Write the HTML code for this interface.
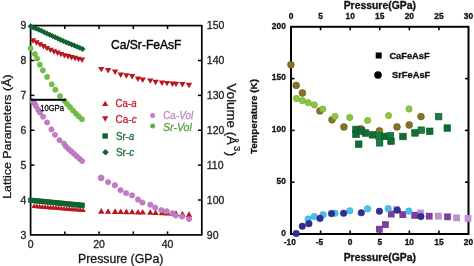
<!DOCTYPE html>
<html><head><meta charset="utf-8"><style>
html,body{margin:0;padding:0;background:#fff;}
svg{display:block;font-family:"Liberation Sans", sans-serif;filter:blur(0.3px);}
</style></head><body>
<svg width="474" height="266" viewBox="0 0 474 266">
<rect width="474" height="266" fill="#fff"/>
<rect x="30.6" y="25.6" width="171.20" height="209.30" fill="none" stroke="#000" stroke-width="1.7"/>
<line x1="30.6" y1="60.48" x2="34.40" y2="60.48" stroke="#000" stroke-width="1.5"/>
<line x1="201.8" y1="60.48" x2="198.00" y2="60.48" stroke="#000" stroke-width="1.5"/>
<line x1="30.6" y1="95.37" x2="34.40" y2="95.37" stroke="#000" stroke-width="1.5"/>
<line x1="201.8" y1="95.37" x2="198.00" y2="95.37" stroke="#000" stroke-width="1.5"/>
<line x1="30.6" y1="130.25" x2="34.40" y2="130.25" stroke="#000" stroke-width="1.5"/>
<line x1="201.8" y1="130.25" x2="198.00" y2="130.25" stroke="#000" stroke-width="1.5"/>
<line x1="30.6" y1="165.13" x2="34.40" y2="165.13" stroke="#000" stroke-width="1.5"/>
<line x1="201.8" y1="165.13" x2="198.00" y2="165.13" stroke="#000" stroke-width="1.5"/>
<line x1="30.6" y1="200.02" x2="34.40" y2="200.02" stroke="#000" stroke-width="1.5"/>
<line x1="201.8" y1="200.02" x2="198.00" y2="200.02" stroke="#000" stroke-width="1.5"/>
<line x1="64.84" y1="25.6" x2="64.84" y2="29.10" stroke="#000" stroke-width="1.5"/>
<line x1="64.84" y1="234.9" x2="64.84" y2="231.40" stroke="#000" stroke-width="1.5"/>
<line x1="99.08" y1="25.6" x2="99.08" y2="29.10" stroke="#000" stroke-width="1.5"/>
<line x1="99.08" y1="234.9" x2="99.08" y2="231.40" stroke="#000" stroke-width="1.5"/>
<line x1="133.32" y1="25.6" x2="133.32" y2="29.10" stroke="#000" stroke-width="1.5"/>
<line x1="133.32" y1="234.9" x2="133.32" y2="231.40" stroke="#000" stroke-width="1.5"/>
<line x1="167.56" y1="25.6" x2="167.56" y2="29.10" stroke="#000" stroke-width="1.5"/>
<line x1="167.56" y1="234.9" x2="167.56" y2="231.40" stroke="#000" stroke-width="1.5"/>
<polygon points="31.40,208.10 37.00,208.10 34.20,203.30" fill="#bb1620"/>
<polygon points="34.11,208.32 39.71,208.32 36.91,203.52" fill="#bb1620"/>
<polygon points="36.82,208.53 42.42,208.53 39.62,203.73" fill="#bb1620"/>
<polygon points="39.53,208.75 45.13,208.75 42.33,203.95" fill="#bb1620"/>
<polygon points="42.24,208.97 47.84,208.97 45.04,204.17" fill="#bb1620"/>
<polygon points="44.96,209.18 50.56,209.18 47.76,204.38" fill="#bb1620"/>
<polygon points="47.67,209.40 53.27,209.40 50.47,204.60" fill="#bb1620"/>
<polygon points="50.38,209.62 55.98,209.62 53.18,204.82" fill="#bb1620"/>
<polygon points="53.09,209.83 58.69,209.83 55.89,205.03" fill="#bb1620"/>
<polygon points="55.80,210.05 61.40,210.05 58.60,205.25" fill="#bb1620"/>
<polygon points="58.51,210.27 64.11,210.27 61.31,205.47" fill="#bb1620"/>
<polygon points="61.22,210.48 66.82,210.48 64.02,205.68" fill="#bb1620"/>
<polygon points="63.93,210.70 69.53,210.70 66.73,205.90" fill="#bb1620"/>
<polygon points="66.64,210.92 72.24,210.92 69.44,206.12" fill="#bb1620"/>
<polygon points="69.36,211.13 74.96,211.13 72.16,206.33" fill="#bb1620"/>
<polygon points="72.07,211.35 77.67,211.35 74.87,206.55" fill="#bb1620"/>
<polygon points="74.78,211.57 80.38,211.57 77.58,206.77" fill="#bb1620"/>
<polygon points="77.49,211.78 83.09,211.78 80.29,206.98" fill="#bb1620"/>
<polygon points="80.20,212.00 85.80,212.00 83.00,207.20" fill="#bb1620"/>
<rect x="28.20" y="197.70" width="5.20" height="5.20" fill="#106331" />
<rect x="30.43" y="197.92" width="5.20" height="5.20" fill="#106331" />
<rect x="32.67" y="198.13" width="5.20" height="5.20" fill="#106331" />
<rect x="34.90" y="198.35" width="5.20" height="5.20" fill="#106331" />
<rect x="37.14" y="198.57" width="5.20" height="5.20" fill="#106331" />
<rect x="39.37" y="198.79" width="5.20" height="5.20" fill="#106331" />
<rect x="41.61" y="199.00" width="5.20" height="5.20" fill="#106331" />
<rect x="43.84" y="199.22" width="5.20" height="5.20" fill="#106331" />
<rect x="46.08" y="199.44" width="5.20" height="5.20" fill="#106331" />
<rect x="48.31" y="199.66" width="5.20" height="5.20" fill="#106331" />
<rect x="50.55" y="199.87" width="5.20" height="5.20" fill="#106331" />
<rect x="52.78" y="200.09" width="5.20" height="5.20" fill="#106331" />
<rect x="55.02" y="200.31" width="5.20" height="5.20" fill="#106331" />
<rect x="57.25" y="200.53" width="5.20" height="5.20" fill="#106331" />
<rect x="59.49" y="200.74" width="5.20" height="5.20" fill="#106331" />
<rect x="61.72" y="200.96" width="5.20" height="5.20" fill="#106331" />
<rect x="63.96" y="201.18" width="5.20" height="5.20" fill="#106331" />
<rect x="66.19" y="201.40" width="5.20" height="5.20" fill="#106331" />
<rect x="68.43" y="201.61" width="5.20" height="5.20" fill="#106331" />
<rect x="70.66" y="201.83" width="5.20" height="5.20" fill="#106331" />
<rect x="72.90" y="202.05" width="5.20" height="5.20" fill="#106331" />
<rect x="75.13" y="202.27" width="5.20" height="5.20" fill="#106331" />
<rect x="77.37" y="202.48" width="5.20" height="5.20" fill="#106331" />
<rect x="79.60" y="202.70" width="5.20" height="5.20" fill="#106331" />
<polygon points="29.80,38.30 36.20,38.30 33.00,43.70" fill="#bb1620"/>
<polygon points="33.30,40.24 39.70,40.24 36.50,45.64" fill="#bb1620"/>
<polygon points="36.80,42.19 43.20,42.19 40.00,47.59" fill="#bb1620"/>
<polygon points="40.30,44.08 46.70,44.08 43.50,49.48" fill="#bb1620"/>
<polygon points="43.80,45.90 50.20,45.90 47.00,51.30" fill="#bb1620"/>
<polygon points="47.30,47.72 53.70,47.72 50.50,53.12" fill="#bb1620"/>
<polygon points="50.80,49.27 57.20,49.27 54.00,54.67" fill="#bb1620"/>
<polygon points="54.30,50.61 60.70,50.61 57.50,56.01" fill="#bb1620"/>
<polygon points="57.80,51.95 64.20,51.95 61.00,57.35" fill="#bb1620"/>
<polygon points="61.30,53.22 67.70,53.22 64.50,58.62" fill="#bb1620"/>
<polygon points="64.80,54.10 71.20,54.10 68.00,59.50" fill="#bb1620"/>
<polygon points="68.30,54.97 74.70,54.97 71.50,60.38" fill="#bb1620"/>
<polygon points="71.80,55.85 78.20,55.85 75.00,61.25" fill="#bb1620"/>
<polygon points="75.30,56.72 81.70,56.72 78.50,62.12" fill="#bb1620"/>
<polygon points="78.80,57.60 85.20,57.60 82.00,63.00" fill="#bb1620"/>
<polygon points="30.60,23.30 33.60,26.30 30.60,29.30 27.60,26.30" fill="#106331"/>
<polygon points="33.33,24.43 36.33,27.43 33.33,30.43 30.33,27.43" fill="#106331"/>
<polygon points="36.06,25.56 39.06,28.56 36.06,31.56 33.06,28.56" fill="#106331"/>
<polygon points="38.79,26.69 41.79,29.69 38.79,32.69 35.79,29.69" fill="#106331"/>
<polygon points="41.53,27.85 44.53,30.85 41.53,33.85 38.53,30.85" fill="#106331"/>
<polygon points="44.26,29.15 47.26,32.15 44.26,35.15 41.26,32.15" fill="#106331"/>
<polygon points="46.99,30.45 49.99,33.45 46.99,36.45 43.99,33.45" fill="#106331"/>
<polygon points="49.72,31.75 52.72,34.75 49.72,37.75 46.72,34.75" fill="#106331"/>
<polygon points="52.45,33.05 55.45,36.05 52.45,39.05 49.45,36.05" fill="#106331"/>
<polygon points="55.18,34.31 58.18,37.31 55.18,40.31 52.18,37.31" fill="#106331"/>
<polygon points="57.92,35.52 60.92,38.52 57.92,41.52 54.92,38.52" fill="#106331"/>
<polygon points="60.65,36.74 63.65,39.74 60.65,42.74 57.65,39.74" fill="#106331"/>
<polygon points="63.38,37.95 66.38,40.95 63.38,43.95 60.38,40.95" fill="#106331"/>
<polygon points="66.11,39.17 69.11,42.17 66.11,45.17 63.11,42.17" fill="#106331"/>
<polygon points="68.84,40.29 71.84,43.29 68.84,46.29 65.84,43.29" fill="#106331"/>
<polygon points="71.57,41.41 74.57,44.41 71.57,47.41 68.57,44.41" fill="#106331"/>
<polygon points="74.31,42.52 77.31,45.52 74.31,48.52 71.31,45.52" fill="#106331"/>
<polygon points="77.04,43.64 80.04,46.64 77.04,49.64 74.04,46.64" fill="#106331"/>
<polygon points="79.77,44.77 82.77,47.77 79.77,50.77 76.77,47.77" fill="#106331"/>
<polygon points="82.50,45.90 85.50,48.90 82.50,51.90 79.50,48.90" fill="#106331"/>
<circle cx="30.60" cy="48.30" r="2.60" fill="#70c043" stroke="#5aa838" stroke-width="0.5"/>
<circle cx="34.90" cy="54.00" r="2.60" fill="#70c043" stroke="#5aa838" stroke-width="0.5"/>
<circle cx="37.10" cy="58.60" r="2.60" fill="#70c043" stroke="#5aa838" stroke-width="0.5"/>
<circle cx="39.90" cy="64.70" r="2.60" fill="#70c043" stroke="#5aa838" stroke-width="0.5"/>
<circle cx="42.90" cy="70.30" r="2.60" fill="#70c043" stroke="#5aa838" stroke-width="0.5"/>
<circle cx="47.10" cy="76.90" r="2.60" fill="#70c043" stroke="#5aa838" stroke-width="0.5"/>
<circle cx="51.70" cy="84.30" r="2.60" fill="#70c043" stroke="#5aa838" stroke-width="0.5"/>
<circle cx="55.40" cy="89.70" r="2.60" fill="#70c043" stroke="#5aa838" stroke-width="0.5"/>
<circle cx="60.00" cy="96.00" r="2.60" fill="#70c043" stroke="#5aa838" stroke-width="0.5"/>
<circle cx="64.60" cy="101.00" r="2.60" fill="#70c043" stroke="#5aa838" stroke-width="0.5"/>
<circle cx="67.20" cy="104.00" r="2.60" fill="#70c043" stroke="#5aa838" stroke-width="0.5"/>
<circle cx="70.10" cy="107.20" r="2.60" fill="#70c043" stroke="#5aa838" stroke-width="0.5"/>
<circle cx="73.00" cy="110.50" r="2.60" fill="#70c043" stroke="#5aa838" stroke-width="0.5"/>
<circle cx="75.90" cy="113.60" r="2.60" fill="#70c043" stroke="#5aa838" stroke-width="0.5"/>
<circle cx="78.80" cy="116.40" r="2.60" fill="#70c043" stroke="#5aa838" stroke-width="0.5"/>
<circle cx="81.90" cy="119.20" r="2.60" fill="#70c043" stroke="#5aa838" stroke-width="0.5"/>
<circle cx="32.60" cy="101.30" r="2.60" fill="#c47cc6" stroke="#a864ac" stroke-width="0.5"/>
<circle cx="34.60" cy="103.50" r="2.60" fill="#c47cc6" stroke="#a864ac" stroke-width="0.5"/>
<circle cx="36.00" cy="106.00" r="2.60" fill="#c47cc6" stroke="#a864ac" stroke-width="0.5"/>
<circle cx="38.10" cy="109.60" r="2.60" fill="#c47cc6" stroke="#a864ac" stroke-width="0.5"/>
<circle cx="39.90" cy="112.40" r="2.60" fill="#c47cc6" stroke="#a864ac" stroke-width="0.5"/>
<circle cx="43.10" cy="116.70" r="2.60" fill="#c47cc6" stroke="#a864ac" stroke-width="0.5"/>
<circle cx="47.10" cy="122.40" r="2.60" fill="#c47cc6" stroke="#a864ac" stroke-width="0.5"/>
<circle cx="51.40" cy="129.40" r="2.60" fill="#c47cc6" stroke="#a864ac" stroke-width="0.5"/>
<circle cx="55.00" cy="134.80" r="2.60" fill="#c47cc6" stroke="#a864ac" stroke-width="0.5"/>
<circle cx="59.50" cy="140.20" r="2.60" fill="#c47cc6" stroke="#a864ac" stroke-width="0.5"/>
<circle cx="64.00" cy="143.50" r="2.60" fill="#c47cc6" stroke="#a864ac" stroke-width="0.5"/>
<circle cx="65.90" cy="146.60" r="2.60" fill="#c47cc6" stroke="#a864ac" stroke-width="0.5"/>
<circle cx="68.60" cy="149.00" r="2.60" fill="#c47cc6" stroke="#a864ac" stroke-width="0.5"/>
<circle cx="71.30" cy="151.40" r="2.60" fill="#c47cc6" stroke="#a864ac" stroke-width="0.5"/>
<circle cx="74.00" cy="153.80" r="2.60" fill="#c47cc6" stroke="#a864ac" stroke-width="0.5"/>
<circle cx="76.70" cy="156.20" r="2.60" fill="#c47cc6" stroke="#a864ac" stroke-width="0.5"/>
<circle cx="79.40" cy="158.60" r="2.60" fill="#c47cc6" stroke="#a864ac" stroke-width="0.5"/>
<circle cx="82.10" cy="161.00" r="2.60" fill="#c47cc6" stroke="#a864ac" stroke-width="0.5"/>
<polygon points="98.10,66.90 104.50,66.90 101.30,72.30" fill="#bb1620"/>
<polygon points="104.90,68.00 111.30,68.00 108.10,73.40" fill="#bb1620"/>
<polygon points="111.90,69.60 118.30,69.60 115.10,75.00" fill="#bb1620"/>
<polygon points="117.50,72.50 123.90,72.50 120.70,77.90" fill="#bb1620"/>
<polygon points="123.20,73.30 129.60,73.30 126.40,78.70" fill="#bb1620"/>
<polygon points="128.90,74.00 135.30,74.00 132.10,79.40" fill="#bb1620"/>
<polygon points="134.80,76.60 141.20,76.60 138.00,82.00" fill="#bb1620"/>
<polygon points="139.50,77.60 145.90,77.60 142.70,83.00" fill="#bb1620"/>
<polygon points="147.10,78.40 153.50,78.40 150.30,83.80" fill="#bb1620"/>
<polygon points="152.40,79.80 158.80,79.80 155.60,85.20" fill="#bb1620"/>
<polygon points="158.80,80.60 165.20,80.60 162.00,86.00" fill="#bb1620"/>
<polygon points="163.80,80.90 170.20,80.90 167.00,86.30" fill="#bb1620"/>
<polygon points="169.30,81.50 175.70,81.50 172.50,86.90" fill="#bb1620"/>
<polygon points="172.80,81.70 179.20,81.70 176.00,87.10" fill="#bb1620"/>
<polygon points="179.20,82.10 185.60,82.10 182.40,87.50" fill="#bb1620"/>
<polygon points="185.80,82.80 192.20,82.80 189.00,88.20" fill="#bb1620"/>
<polygon points="98.10,213.70 104.50,213.70 101.30,208.10" fill="#bb1620"/>
<polygon points="104.90,213.80 111.30,213.80 108.10,208.20" fill="#bb1620"/>
<polygon points="111.90,213.90 118.30,213.90 115.10,208.30" fill="#bb1620"/>
<polygon points="117.50,214.10 123.90,214.10 120.70,208.50" fill="#bb1620"/>
<polygon points="123.20,214.20 129.60,214.20 126.40,208.60" fill="#bb1620"/>
<polygon points="128.90,214.30 135.30,214.30 132.10,208.70" fill="#bb1620"/>
<polygon points="134.80,214.50 141.20,214.50 138.00,208.90" fill="#bb1620"/>
<polygon points="139.50,214.60 145.90,214.60 142.70,209.00" fill="#bb1620"/>
<polygon points="147.10,214.80 153.50,214.80 150.30,209.20" fill="#bb1620"/>
<polygon points="152.40,215.00 158.80,215.00 155.60,209.40" fill="#bb1620"/>
<polygon points="158.80,215.20 165.20,215.20 162.00,209.60" fill="#bb1620"/>
<polygon points="163.80,215.40 170.20,215.40 167.00,209.80" fill="#bb1620"/>
<polygon points="169.30,215.70 175.70,215.70 172.50,210.10" fill="#bb1620"/>
<polygon points="172.80,215.90 179.20,215.90 176.00,210.30" fill="#bb1620"/>
<polygon points="179.20,216.40 185.60,216.40 182.40,210.80" fill="#bb1620"/>
<polygon points="185.80,216.90 192.20,216.90 189.00,211.30" fill="#bb1620"/>
<circle cx="101.10" cy="177.90" r="3.00" fill="#c47cc6" stroke="#a864ac" stroke-width="0.5"/>
<circle cx="108.10" cy="182.10" r="2.70" fill="#c47cc6" stroke="#a864ac" stroke-width="0.5"/>
<circle cx="114.90" cy="185.20" r="2.70" fill="#c47cc6" stroke="#a864ac" stroke-width="0.5"/>
<circle cx="120.50" cy="190.10" r="2.70" fill="#c47cc6" stroke="#a864ac" stroke-width="0.5"/>
<circle cx="126.10" cy="193.10" r="2.70" fill="#c47cc6" stroke="#a864ac" stroke-width="0.5"/>
<circle cx="132.10" cy="195.40" r="2.70" fill="#c47cc6" stroke="#a864ac" stroke-width="0.5"/>
<circle cx="138.00" cy="199.50" r="2.70" fill="#c47cc6" stroke="#a864ac" stroke-width="0.5"/>
<circle cx="142.40" cy="202.60" r="2.70" fill="#c47cc6" stroke="#a864ac" stroke-width="0.5"/>
<circle cx="150.30" cy="204.70" r="2.70" fill="#c47cc6" stroke="#a864ac" stroke-width="0.5"/>
<circle cx="155.20" cy="207.60" r="2.70" fill="#c47cc6" stroke="#a864ac" stroke-width="0.5"/>
<circle cx="161.40" cy="210.10" r="2.70" fill="#c47cc6" stroke="#a864ac" stroke-width="0.5"/>
<circle cx="166.70" cy="211.30" r="2.70" fill="#c47cc6" stroke="#a864ac" stroke-width="0.5"/>
<circle cx="172.60" cy="213.40" r="2.70" fill="#c47cc6" stroke="#a864ac" stroke-width="0.5"/>
<circle cx="175.70" cy="215.50" r="2.70" fill="#c47cc6" stroke="#a864ac" stroke-width="0.5"/>
<circle cx="182.10" cy="216.50" r="2.70" fill="#c47cc6" stroke="#a864ac" stroke-width="0.5"/>
<circle cx="189.00" cy="219.00" r="2.70" fill="#c47cc6" stroke="#a864ac" stroke-width="0.5"/>
<rect x="30.5" y="98.8" width="35.3" height="2" fill="#000"/>
<text x="40.3" y="110.7" font-size="8.5" textLength="23.6" lengthAdjust="spacingAndGlyphs" fill="#111" stroke="#111" stroke-width="0.35">10GPa</text>
<text x="26.3" y="29.40" font-size="10.5" text-anchor="end" fill="#222" stroke="#222" stroke-width="0.3">9</text>
<text x="26.3" y="64.28" font-size="10.5" text-anchor="end" fill="#222" stroke="#222" stroke-width="0.3">8</text>
<text x="26.3" y="99.17" font-size="10.5" text-anchor="end" fill="#222" stroke="#222" stroke-width="0.3">7</text>
<text x="26.3" y="134.05" font-size="10.5" text-anchor="end" fill="#222" stroke="#222" stroke-width="0.3">6</text>
<text x="26.3" y="168.93" font-size="10.5" text-anchor="end" fill="#222" stroke="#222" stroke-width="0.3">5</text>
<text x="26.3" y="203.82" font-size="10.5" text-anchor="end" fill="#222" stroke="#222" stroke-width="0.3">4</text>
<text x="26.3" y="238.70" font-size="10.5" text-anchor="end" fill="#222" stroke="#222" stroke-width="0.3">3</text>
<text x="206.8" y="29.40" font-size="10.5" fill="#222" stroke="#222" stroke-width="0.3">150</text>
<text x="206.8" y="64.28" font-size="10.5" fill="#222" stroke="#222" stroke-width="0.3">140</text>
<text x="206.8" y="99.17" font-size="10.5" fill="#222" stroke="#222" stroke-width="0.3">130</text>
<text x="206.8" y="134.05" font-size="10.5" fill="#222" stroke="#222" stroke-width="0.3">120</text>
<text x="206.8" y="168.93" font-size="10.5" fill="#222" stroke="#222" stroke-width="0.3">110</text>
<text x="206.8" y="203.82" font-size="10.5" fill="#222" stroke="#222" stroke-width="0.3">100</text>
<text x="206.8" y="238.70" font-size="10.5" fill="#222" stroke="#222" stroke-width="0.3">90</text>
<text x="30.60" y="247.6" font-size="10.5" text-anchor="middle" fill="#222" stroke="#222" stroke-width="0.3">0</text>
<text x="99.08" y="247.6" font-size="10.5" text-anchor="middle" fill="#222" stroke="#222" stroke-width="0.3">20</text>
<text x="167.56" y="247.6" font-size="10.5" text-anchor="middle" fill="#222" stroke="#222" stroke-width="0.3">40</text>
<text x="78" y="262.8" font-size="12.3" fill="#111" stroke="#222" stroke-width="0.3">Pressure (GPa)</text>
<text x="111" y="48.6" font-size="12.6" textLength="70.5" lengthAdjust="spacingAndGlyphs" fill="#000" stroke="#000" stroke-width="0.38">Ca/Sr-FeAsF</text>
<text transform="translate(10.5,136.6) rotate(-90)" font-size="11.8" text-anchor="middle" textLength="124.5" lengthAdjust="spacingAndGlyphs" fill="#111" stroke="#222" stroke-width="0.3">Lattice Parameters (Å)</text>
<text transform="translate(226.6,83.6) rotate(90) scale(1.11,1)" font-size="12.0" fill="#111" stroke="#222" stroke-width="0.3">Volume (Å<tspan font-size="8.4" dy="-7" dx="0.9">3</tspan><tspan dy="7" dx="0.6">)</tspan></text>
<polygon points="102.10,106.10 108.30,106.10 105.20,100.70" fill="#bb1620"/>
<text x="115.6" y="106.7" font-size="10.6" textLength="21" lengthAdjust="spacingAndGlyphs" fill="#c0222c" stroke="#c0222c" stroke-width="0.3">Ca-<tspan font-style="italic">a</tspan></text>
<polygon points="102.10,116.30 108.30,116.30 105.20,121.70" fill="#bb1620"/>
<text x="115.6" y="122.8" font-size="10.6" textLength="21" lengthAdjust="spacingAndGlyphs" fill="#c0222c" stroke="#c0222c" stroke-width="0.3">Ca-<tspan font-style="italic">c</tspan></text>
<rect x="102.40" y="133.30" width="5.40" height="5.40" fill="#106331" />
<text x="115.9" y="139.9" font-size="10.6" textLength="18.4" lengthAdjust="spacingAndGlyphs" fill="#246a3c" stroke="#246a3c" stroke-width="0.3">Sr-<tspan font-style="italic">a</tspan></text>
<polygon points="105.50,148.90 108.80,152.20 105.50,155.50 102.20,152.20" fill="#106331"/>
<text x="115.9" y="155.7" font-size="10.6" textLength="18.4" lengthAdjust="spacingAndGlyphs" fill="#246a3c" stroke="#246a3c" stroke-width="0.3">Sr-<tspan font-style="italic">c</tspan></text>
<circle cx="152.60" cy="115.60" r="2.50" fill="#c47cc6"/>
<text x="163.2" y="119.3" font-size="10.6" textLength="30" lengthAdjust="spacingAndGlyphs" fill="#c488c6" stroke="#c488c6" stroke-width="0.3">Ca-<tspan font-style="italic">Vol</tspan></text>
<circle cx="152.60" cy="126.10" r="2.50" fill="#5fb340"/>
<text x="163.0" y="130.8" font-size="10.6" font-style="italic" textLength="28.8" lengthAdjust="spacingAndGlyphs" fill="#5a9e3c" stroke="#5a9e3c" stroke-width="0.3">Sr-Vol</text>
<rect x="291.0" y="26.8" width="177.50" height="207.20" fill="none" stroke="#000" stroke-width="2"/>
<line x1="291.0" y1="182.20" x2="294.50" y2="182.20" stroke="#000" stroke-width="1.6"/>
<line x1="468.5" y1="182.20" x2="465.00" y2="182.20" stroke="#000" stroke-width="1.6"/>
<line x1="291.0" y1="130.40" x2="294.50" y2="130.40" stroke="#000" stroke-width="1.6"/>
<line x1="468.5" y1="130.40" x2="465.00" y2="130.40" stroke="#000" stroke-width="1.6"/>
<line x1="291.0" y1="78.60" x2="294.50" y2="78.60" stroke="#000" stroke-width="1.6"/>
<line x1="468.5" y1="78.60" x2="465.00" y2="78.60" stroke="#000" stroke-width="1.6"/>
<line x1="320.58" y1="26.8" x2="320.58" y2="30.30" stroke="#000" stroke-width="1.6"/>
<line x1="320.58" y1="234.0" x2="320.58" y2="230.50" stroke="#000" stroke-width="1.6"/>
<line x1="350.17" y1="26.8" x2="350.17" y2="30.30" stroke="#000" stroke-width="1.6"/>
<line x1="350.17" y1="234.0" x2="350.17" y2="230.50" stroke="#000" stroke-width="1.6"/>
<line x1="379.75" y1="26.8" x2="379.75" y2="30.30" stroke="#000" stroke-width="1.6"/>
<line x1="379.75" y1="234.0" x2="379.75" y2="230.50" stroke="#000" stroke-width="1.6"/>
<line x1="409.33" y1="26.8" x2="409.33" y2="30.30" stroke="#000" stroke-width="1.6"/>
<line x1="409.33" y1="234.0" x2="409.33" y2="230.50" stroke="#000" stroke-width="1.6"/>
<line x1="438.92" y1="26.8" x2="438.92" y2="30.30" stroke="#000" stroke-width="1.6"/>
<line x1="438.92" y1="234.0" x2="438.92" y2="230.50" stroke="#000" stroke-width="1.6"/>
<circle cx="290.90" cy="64.70" r="3.40" fill="#857428" stroke="#5e5220" stroke-width="0.6"/>
<circle cx="296.20" cy="85.40" r="3.40" fill="#857428" stroke="#5e5220" stroke-width="0.6"/>
<circle cx="302.40" cy="93.00" r="3.40" fill="#857428" stroke="#5e5220" stroke-width="0.6"/>
<circle cx="319.90" cy="110.90" r="3.40" fill="#857428" stroke="#5e5220" stroke-width="0.6"/>
<circle cx="332.00" cy="119.80" r="3.40" fill="#857428" stroke="#5e5220" stroke-width="0.6"/>
<circle cx="343.90" cy="127.00" r="3.40" fill="#857428" stroke="#5e5220" stroke-width="0.6"/>
<circle cx="361.00" cy="128.80" r="3.40" fill="#857428" stroke="#5e5220" stroke-width="0.6"/>
<circle cx="379.40" cy="130.80" r="3.40" fill="#857428" stroke="#5e5220" stroke-width="0.6"/>
<circle cx="397.00" cy="126.90" r="3.40" fill="#857428" stroke="#5e5220" stroke-width="0.6"/>
<circle cx="409.20" cy="125.00" r="3.40" fill="#857428" stroke="#5e5220" stroke-width="0.6"/>
<circle cx="421.00" cy="116.60" r="3.40" fill="#857428" stroke="#5e5220" stroke-width="0.6"/>
<circle cx="296.50" cy="98.50" r="3.15" fill="#8cc63e" stroke="#6fa32e" stroke-width="0.6"/>
<circle cx="302.40" cy="100.70" r="3.15" fill="#8cc63e" stroke="#6fa32e" stroke-width="0.6"/>
<circle cx="308.20" cy="102.70" r="3.15" fill="#8cc63e" stroke="#6fa32e" stroke-width="0.6"/>
<circle cx="314.30" cy="104.90" r="3.15" fill="#8cc63e" stroke="#6fa32e" stroke-width="0.6"/>
<circle cx="322.80" cy="109.00" r="3.15" fill="#8cc63e" stroke="#6fa32e" stroke-width="0.6"/>
<circle cx="334.90" cy="116.40" r="3.15" fill="#8cc63e" stroke="#6fa32e" stroke-width="0.6"/>
<circle cx="349.70" cy="117.50" r="3.15" fill="#8cc63e" stroke="#6fa32e" stroke-width="0.6"/>
<circle cx="367.60" cy="120.50" r="3.15" fill="#8cc63e" stroke="#6fa32e" stroke-width="0.6"/>
<circle cx="388.60" cy="115.60" r="3.15" fill="#8cc63e" stroke="#6fa32e" stroke-width="0.6"/>
<circle cx="409.00" cy="109.00" r="3.15" fill="#8cc63e" stroke="#6fa32e" stroke-width="0.6"/>
<rect x="352.70" y="126.10" width="6.60" height="6.60" fill="#116b33" stroke="#0b5a2a" stroke-width="0.6"/>
<rect x="352.70" y="131.10" width="6.60" height="6.60" fill="#116b33" stroke="#0b5a2a" stroke-width="0.6"/>
<rect x="358.30" y="127.70" width="6.60" height="6.60" fill="#116b33" stroke="#0b5a2a" stroke-width="0.6"/>
<rect x="362.20" y="129.70" width="6.60" height="6.60" fill="#116b33" stroke="#0b5a2a" stroke-width="0.6"/>
<rect x="355.40" y="140.90" width="6.60" height="6.60" fill="#116b33" stroke="#0b5a2a" stroke-width="0.6"/>
<rect x="369.20" y="131.50" width="6.60" height="6.60" fill="#116b33" stroke="#0b5a2a" stroke-width="0.6"/>
<rect x="375.60" y="132.50" width="6.60" height="6.60" fill="#178040" stroke="#0b5a2a" stroke-width="0.6"/>
<rect x="376.30" y="139.50" width="6.60" height="6.60" fill="#178040" stroke="#0b5a2a" stroke-width="0.6"/>
<rect x="381.30" y="133.10" width="6.60" height="6.60" fill="#116b33" stroke="#0b5a2a" stroke-width="0.6"/>
<rect x="387.10" y="132.50" width="6.60" height="6.60" fill="#178040" stroke="#0b5a2a" stroke-width="0.6"/>
<rect x="387.70" y="137.90" width="6.60" height="6.60" fill="#116b33" stroke="#0b5a2a" stroke-width="0.6"/>
<rect x="399.70" y="133.20" width="6.60" height="6.60" fill="#116b33" stroke="#0b5a2a" stroke-width="0.6"/>
<rect x="411.70" y="129.60" width="6.60" height="6.60" fill="#116b33" stroke="#0b5a2a" stroke-width="0.6"/>
<rect x="418.00" y="126.90" width="6.60" height="6.60" fill="#178040" stroke="#0b5a2a" stroke-width="0.6"/>
<rect x="426.40" y="128.00" width="6.60" height="6.60" fill="#116b33" stroke="#0b5a2a" stroke-width="0.6"/>
<rect x="435.30" y="113.30" width="6.60" height="6.60" fill="#178040" stroke="#0b5a2a" stroke-width="0.6"/>
<rect x="444.00" y="124.80" width="6.60" height="6.60" fill="#116b33" stroke="#0b5a2a" stroke-width="0.6"/>
<rect x="393.10" y="206.10" width="6.80" height="6.80" fill="#bf8fd0" />
<rect x="417.10" y="209.60" width="6.80" height="6.80" fill="#bf8fd0" />
<rect x="376.00" y="225.80" width="6.80" height="6.80" fill="#7d3f9c" />
<rect x="382.00" y="221.20" width="6.80" height="6.80" fill="#7d3f9c" />
<rect x="387.90" y="210.70" width="6.80" height="6.80" fill="#7d3f9c" />
<rect x="399.40" y="211.20" width="6.80" height="6.80" fill="#7d3f9c" />
<rect x="411.20" y="212.00" width="6.80" height="6.80" fill="#7d3f9c" />
<rect x="425.80" y="212.80" width="6.80" height="6.80" fill="#7d3f9c" />
<rect x="435.00" y="212.80" width="6.80" height="6.80" fill="#bf8fd0" />
<rect x="444.10" y="213.40" width="6.80" height="6.80" fill="#7d3f9c" />
<rect x="453.20" y="214.40" width="6.80" height="6.80" fill="#bf8fd0" />
<rect x="464.60" y="215.00" width="6.80" height="6.80" fill="#bf8fd0" />
<circle cx="308.10" cy="219.00" r="3.30" fill="#4bc0ea" stroke="#3aa8d8" stroke-width="0.5"/>
<circle cx="314.10" cy="216.60" r="3.30" fill="#4bc0ea" stroke="#3aa8d8" stroke-width="0.5"/>
<circle cx="323.10" cy="214.70" r="3.30" fill="#4bc0ea" stroke="#3aa8d8" stroke-width="0.5"/>
<circle cx="335.00" cy="213.20" r="3.30" fill="#4bc0ea" stroke="#3aa8d8" stroke-width="0.5"/>
<circle cx="349.80" cy="210.80" r="3.30" fill="#4bc0ea" stroke="#3aa8d8" stroke-width="0.5"/>
<circle cx="367.60" cy="208.90" r="3.30" fill="#4bc0ea" stroke="#3aa8d8" stroke-width="0.5"/>
<circle cx="388.20" cy="208.60" r="3.30" fill="#4bc0ea" stroke="#3aa8d8" stroke-width="0.5"/>
<circle cx="408.80" cy="211.10" r="3.30" fill="#4bc0ea" stroke="#3aa8d8" stroke-width="0.5"/>
<circle cx="296.20" cy="233.50" r="3.30" fill="#2e3192" stroke="#23267a" stroke-width="0.5"/>
<circle cx="302.30" cy="226.30" r="3.30" fill="#2e3192" stroke="#23267a" stroke-width="0.5"/>
<circle cx="308.90" cy="223.70" r="3.30" fill="#2e3192" stroke="#23267a" stroke-width="0.5"/>
<circle cx="320.00" cy="218.40" r="3.30" fill="#2e3192" stroke="#23267a" stroke-width="0.5"/>
<circle cx="331.50" cy="213.60" r="3.30" fill="#2e3192" stroke="#23267a" stroke-width="0.5"/>
<circle cx="343.60" cy="213.20" r="3.30" fill="#2e3192" stroke="#23267a" stroke-width="0.5"/>
<circle cx="361.30" cy="212.70" r="3.30" fill="#2e3192" stroke="#23267a" stroke-width="0.5"/>
<circle cx="379.40" cy="211.20" r="3.30" fill="#2e3192" stroke="#23267a" stroke-width="0.5"/>
<circle cx="397.30" cy="210.20" r="3.30" fill="#2e3192" stroke="#23267a" stroke-width="0.5"/>
<circle cx="420.90" cy="216.50" r="3.30" fill="#2e3192" stroke="#23267a" stroke-width="0.5"/>
<text x="285.8" y="235.70" font-size="8.4" font-weight="bold" stroke="#111" stroke-width="0.3" text-anchor="end" fill="#111">0</text>
<text x="285.8" y="183.90" font-size="8.4" font-weight="bold" stroke="#111" stroke-width="0.3" text-anchor="end" fill="#111">50</text>
<text x="285.8" y="132.10" font-size="8.4" font-weight="bold" stroke="#111" stroke-width="0.3" text-anchor="end" fill="#111">100</text>
<text x="285.8" y="80.30" font-size="8.4" font-weight="bold" stroke="#111" stroke-width="0.3" text-anchor="end" fill="#111">150</text>
<text x="285.8" y="28.50" font-size="8.4" font-weight="bold" stroke="#111" stroke-width="0.3" text-anchor="end" fill="#111">200</text>
<text x="289.80" y="245.3" font-size="8.4" font-weight="bold" stroke="#111" stroke-width="0.3" text-anchor="middle" fill="#111">-10</text>
<text x="291.00" y="19.4" font-size="8.4" font-weight="bold" stroke="#111" stroke-width="0.3" text-anchor="middle" fill="#111">0</text>
<text x="319.38" y="245.3" font-size="8.4" font-weight="bold" stroke="#111" stroke-width="0.3" text-anchor="middle" fill="#111">-5</text>
<text x="320.58" y="19.4" font-size="8.4" font-weight="bold" stroke="#111" stroke-width="0.3" text-anchor="middle" fill="#111">5</text>
<text x="350.17" y="245.3" font-size="8.4" font-weight="bold" stroke="#111" stroke-width="0.3" text-anchor="middle" fill="#111">0</text>
<text x="350.17" y="19.4" font-size="8.4" font-weight="bold" stroke="#111" stroke-width="0.3" text-anchor="middle" fill="#111">10</text>
<text x="379.75" y="245.3" font-size="8.4" font-weight="bold" stroke="#111" stroke-width="0.3" text-anchor="middle" fill="#111">5</text>
<text x="379.75" y="19.4" font-size="8.4" font-weight="bold" stroke="#111" stroke-width="0.3" text-anchor="middle" fill="#111">15</text>
<text x="409.33" y="245.3" font-size="8.4" font-weight="bold" stroke="#111" stroke-width="0.3" text-anchor="middle" fill="#111">10</text>
<text x="409.33" y="19.4" font-size="8.4" font-weight="bold" stroke="#111" stroke-width="0.3" text-anchor="middle" fill="#111">20</text>
<text x="438.92" y="245.3" font-size="8.4" font-weight="bold" stroke="#111" stroke-width="0.3" text-anchor="middle" fill="#111">15</text>
<text x="438.92" y="19.4" font-size="8.4" font-weight="bold" stroke="#111" stroke-width="0.3" text-anchor="middle" fill="#111">25</text>
<text x="468.50" y="245.3" font-size="8.4" font-weight="bold" stroke="#111" stroke-width="0.3" text-anchor="middle" fill="#111">20</text>
<text x="468.50" y="19.4" font-size="8.4" font-weight="bold" stroke="#111" stroke-width="0.3" text-anchor="middle" fill="#111">30</text>
<text x="343.7" y="8.9" font-size="10.4" font-weight="bold" stroke="#111" stroke-width="0.3" fill="#111">Pressure(GPa)</text>
<text x="343.7" y="261.2" font-size="10.4" font-weight="bold" stroke="#111" stroke-width="0.3" fill="#111">Pressure(GPa)</text>
<text transform="translate(256.8,116.6) rotate(-90)" font-size="9.7" font-weight="bold" stroke="#111" stroke-width="0.3" text-anchor="middle" textLength="75" lengthAdjust="spacingAndGlyphs" fill="#111">Temperature (K)</text>
<rect x="375.70" y="52.50" width="6.00" height="6.00" fill="#000" />
<text x="389.4" y="58.7" font-size="9.3" font-weight="bold" stroke="#111" stroke-width="0.3" fill="#111">CaFeAsF</text>
<circle cx="378.00" cy="75.00" r="3.80" fill="#000"/>
<text x="392" y="78.1" font-size="9.3" font-weight="bold" stroke="#111" stroke-width="0.3" fill="#111">SrFeAsF</text>
</svg>
</body></html>
